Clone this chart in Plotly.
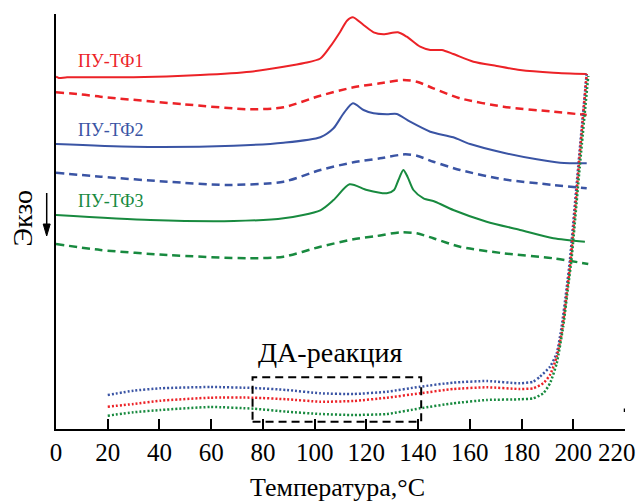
import plotly.graph_objects as go

# ---- data (temperature, °C ; signal, arbitrary units) ----
red_solid_x = [0, 1.1, 4.3, 30, 55.8, 75.1, 88, 96, 102.2, 106, 109.9, 112.5, 114.8, 118.9, 122.8, 126.6, 132.2, 135.6, 140.8, 144.7, 149.2, 153.6, 161.4, 170.4, 179.4, 192.3, 205.2]
red_solid_y = [352.3, 351, 351.7, 351.7, 354, 357.3, 362.3, 366, 370.5, 382.3, 397.3, 408.3, 411.7, 404, 396.7, 394.7, 396.7, 392.3, 382.3, 379, 379, 375, 367.3, 363, 359, 356.3, 355]

red_dash_x = [0, 9.5, 17.2, 49.4, 75.1, 88, 102.2, 115, 125.3, 134.3, 139.5, 145.9, 156.2, 173, 192.3, 205.2]
red_dash_y = [336.7, 334.7, 332.3, 324.7, 319.7, 321.7, 333.3, 341.7, 345.7, 349, 347.3, 340.7, 330.7, 322.3, 317.3, 314]

blue_solid_x = [0, 30, 68.7, 88, 102.2, 107.3, 111.2, 114.8, 118.9, 122.8, 127.9, 131.8, 136.9, 144.7, 153.6, 160.1, 173, 185.9, 194.9, 205.2]
blue_solid_y = [285, 282.3, 283.3, 286.3, 291.8, 300.7, 315.7, 325.7, 319, 315.7, 314.7, 315, 307.3, 297.3, 291.7, 285, 276.3, 269.7, 266.3, 265.7]

blue_dash_x = [0, 17.2, 43, 66.1, 88, 102.2, 115, 125.3, 135, 139.5, 145.9, 156.2, 173, 192.3, 205.2]
blue_dash_y = [256.3, 252.3, 247.3, 244, 247.3, 259, 266.7, 270.7, 274.7, 273.3, 267.3, 259, 249.7, 244, 240.7]

green_solid_x = [0, 36.5, 68.7, 88, 102.2, 107.3, 113.5, 120.2, 127.9, 130.7, 132.4, 134.3, 135.9, 138.2, 142.1, 146.6, 153.6, 166.5, 179.4, 192.3, 204.5]
green_solid_y = [214, 209, 208, 210.7, 218.7, 229, 244.7, 239, 235.7, 239, 249, 259, 252.3, 239, 230.7, 227.3, 219, 207.3, 199, 190.7, 187.3]

green_dash_x = [0, 17.2, 43, 75.1, 88, 102.2, 115, 124.1, 133.1, 139.5, 145.9, 156.2, 173, 192.3, 205.8]
green_dash_y = [185, 179, 174, 170.7, 172.3, 182.3, 189.7, 193, 196.7, 195.7, 190.7, 182.3, 175.7, 170.7, 165]

blue_dot_x = [20, 30, 40.4, 59.7, 76.4, 89.3, 102.2, 115, 128, 140.8, 153.5, 166.7, 179.4, 184.5, 187.1, 191, 193.6, 195.5, 197.5, 198.7, 201.9, 205.2]
blue_dot_y = [34, 38.3, 40.7, 42, 41, 39, 35.7, 35, 37.3, 42.3, 46.3, 48, 45.7, 47.3, 52.3, 62.3, 75.7, 102.3, 142.3, 169, 262.3, 356]

red_dot_x = [20, 30, 40.4, 59.7, 76.4, 89.3, 102.2, 115, 127.9, 140.8, 153.6, 166.5, 179.4, 184.5, 188.4, 191, 193.6, 195.5, 197.5, 199, 202.1, 205.2]
red_dot_y = [22.3, 25, 28.3, 31.3, 31.3, 29.7, 27.3, 28, 31.3, 35.7, 40, 41.7, 40, 40.7, 45.7, 54, 72.3, 95.7, 135.7, 169, 262, 355]

green_dot_x = [20, 30, 40.4, 59.7, 76.4, 89.3, 102.2, 115, 127.9, 140.8, 153.6, 166.5, 179.4, 184.5, 188.4, 191, 193.6, 196.1, 198, 199.3, 202.5, 205.8]
green_dot_y = [13.3, 16.7, 19, 22, 20.3, 17.3, 15, 14, 15, 20.7, 25.7, 29, 29.7, 30.7, 35.7, 45.7, 65.7, 102.3, 142.3, 169, 262, 353]

x_ticks = [0, 20, 40, 60, 80, 100, 120, 140, 160, 180, 200, 220]
x_tick_text = ["0", "20", "40", "60", "80", "100", "120", "140", "160", "180", "200", ""]
last_tick_label = "220"
labels = ["ПУ-ТФ1", "ПУ-ТФ2", "ПУ-ТФ3"]
label_y = [368, 299, 228]
da_box = [76, 141.2, 7.3, 51.7]

RED = "#ec2227"
BLUE = "#3a54a4"
GREEN = "#188a3f"
FONT = "Liberation Serif"

fig = go.Figure()

def add(x, y, color, dash, width, smooth=0.7):
    fig.add_trace(go.Scatter(x=x, y=y, mode="lines",
                             line=dict(color=color, width=width, dash=dash,
                                       shape="spline", smoothing=smooth),
                             showlegend=False, hoverinfo="skip"))

add(red_solid_x, red_solid_y, RED, "solid", 2)
add(red_dash_x, red_dash_y, RED, "8px,5px", 2.5)
add(blue_solid_x, blue_solid_y, BLUE, "solid", 2)
add(blue_dash_x, blue_dash_y, BLUE, "8px,5px", 2.5)
add(green_solid_x, green_solid_y, GREEN, "solid", 2)
add(green_dash_x, green_dash_y, GREEN, "8px,5px", 2.5)
add(blue_dot_x, blue_dot_y, BLUE, "2px,2px", 2.5, 0.5)
add(red_dot_x, red_dot_y, RED, "2px,2px", 2.5, 0.5)
add(green_dot_x, green_dot_y, GREEN, "2px,2px", 2.5, 0.5)

colors = [RED, BLUE, GREEN]
ann = []
for t, yv, c in zip(labels, label_y, colors):
    ann.append(dict(x=7.8, y=yv, text=t, showarrow=False, xanchor="left", yanchor="middle",
                    font=dict(family=FONT, size=18, color=c)))
ann.append(dict(x=77.2, y=77, text="ДА-реакция", showarrow=False, xanchor="left", yanchor="middle",
                font=dict(family=FONT, size=28, color="black")))
ann.append(dict(xref="paper", yref="paper", x=-0.058, y=0.5096, text="Экзо", textangle=-90,
                showarrow=False, xanchor="center", yanchor="middle",
                font=dict(family=FONT, size=28, color="black")))
ann.append(dict(xref="paper", yref="paper", x=0.4956, y=-0.14, text="Температура,°C",
                showarrow=False, xanchor="center", yanchor="middle",
                font=dict(family=FONT, size=26, color="black")))
# last tick label, nudged left so it stays inside the picture
ann.append(dict(x=x_ticks[-1], xref="x", yref="paper", y=-0.0571, text=last_tick_label,
                showarrow=False, xanchor="right", yanchor="middle", xshift=13,
                font=dict(family=FONT, size=25, color="black")))

# arrow next to "Экзо" (paper coords)
ax_x = (46.7 - 56) / 569
def py(p):
    return (429 - p) / 415
fig.add_shape(type="line", xref="paper", yref="paper", x0=ax_x, x1=ax_x, y0=py(193), y1=py(226),
              line=dict(color="black", width=1.5))
fig.add_shape(type="path", xref="paper", yref="paper",
              path=f"M {ax_x - 3.5/569},{py(224)} L {ax_x + 3.5/569},{py(224)} L {ax_x},{py(236)} Z",
              fillcolor="black", line=dict(color="black", width=1))

# DA reaction box
fig.add_shape(type="rect", x0=da_box[0], x1=da_box[1], y0=da_box[2], y1=da_box[3],
              line=dict(color="black", width=2, dash="8px,5px"))
# small mark above the 220 tick
fig.add_shape(type="line", x0=220, x1=220, y0=17, y1=20.5, line=dict(color="black", width=2.5))

fig.update_layout(
    width=640, height=502,
    margin=dict(l=56, r=15, t=14, b=73, autoexpand=False),
    paper_bgcolor="white", plot_bgcolor="white",
    annotations=ann,
    xaxis=dict(range=[0, 220], tickvals=x_ticks, ticktext=x_tick_text, ticks="inside",
               ticklen=10, tickwidth=1.5, automargin=False,
               tickcolor="black", showline=True, linecolor="black", linewidth=1.5,
               showgrid=False, zeroline=False, ticklabeloverflow="allow",
               tickfont=dict(family=FONT, size=25, color="black")),
    yaxis=dict(range=[0, 415], showline=True, linecolor="black", linewidth=1.5, automargin=False,
               showticklabels=False, ticks="", showgrid=False, zeroline=False),
)

fig.write_html("out.html")
